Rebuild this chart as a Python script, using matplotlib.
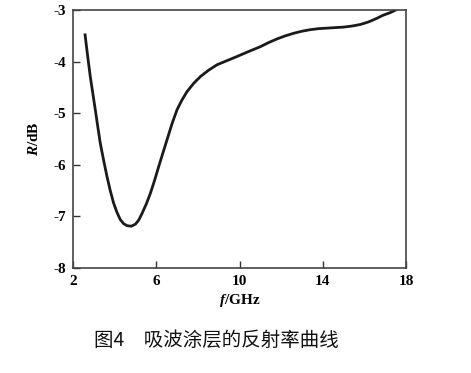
import matplotlib.pyplot as plt

plt.rcParams['mathtext.fontset'] = 'custom'
plt.rcParams['mathtext.it'] = 'Liberation Serif:italic:bold'
plt.rcParams['mathtext.rm'] = 'Liberation Serif:bold'

# reflectivity of the absorbing coating
freq_ghz = [2.58, 2.70, 2.83, 2.95, 3.07, 3.19, 3.31, 3.47, 3.63, 3.79, 3.95, 4.11,
            4.27, 4.43, 4.60, 4.80, 5.00, 5.16, 5.32, 5.52, 5.72, 5.92, 6.12, 6.32,
            6.52, 6.76, 7.00, 7.24, 7.48, 7.80, 8.12, 8.50, 8.92, 9.40, 9.88, 10.4,
            11.0, 11.4, 11.8, 12.2, 12.6, 13.0, 13.4, 13.8, 14.2, 14.6, 15.0, 15.4,
            15.8, 16.2, 16.6, 16.9, 17.24, 17.5, 17.65]
refl_db = [-3.48, -3.88, -4.29, -4.61, -4.93, -5.26, -5.58, -5.91, -6.22, -6.50, -6.74, -6.92,
           -7.06, -7.14, -7.18, -7.19, -7.15, -7.07, -6.94, -6.76, -6.55, -6.30, -6.03, -5.77,
           -5.51, -5.20, -4.93, -4.74, -4.58, -4.42, -4.29, -4.17, -4.06, -3.98, -3.90, -3.81,
           -3.71, -3.63, -3.56, -3.50, -3.45, -3.41, -3.38, -3.36, -3.35, -3.34, -3.33, -3.31,
           -3.28, -3.23, -3.16, -3.10, -3.05, -3.00, -2.97]

x_ticks = [2, 6, 10, 14, 18]
y_ticks = [-8, -7, -6, -5, -4, -3]

fig = plt.figure(figsize=(4.71, 3.73), dpi=100)
ax = fig.add_axes([0.155, 0.2815, 0.707, 0.6915])

ax.plot(freq_ghz, refl_db, color='#1a1a1a', lw=2.0, solid_joinstyle='round')
ax.set_xlim(2, 18)
ax.set_ylim(-8, -3)
ax.set_xticks(x_ticks)
ax.set_yticks(y_ticks)
ax.set_xticklabels([str(t) for t in x_ticks], fontfamily='Liberation Serif', fontweight='bold', fontsize=11)
ax.set_yticklabels([str(t) for t in y_ticks], fontfamily='Liberation Serif', fontweight='bold', fontsize=11)
ax.tick_params(direction='in', length=5, width=1, color='#333333')
ax.tick_params(axis='x', pad=5)
ax.tick_params(axis='y', pad=5)
for s in ax.spines.values():
    s.set_linewidth(1.2)
    s.set_color('#444444')

ax.set_xlabel(r'$\mathit{f}$/GHz', fontfamily='Liberation Serif', fontweight='bold', fontsize=11, labelpad=3)
ax.set_ylabel(r'$\mathit{R}$/dB', fontfamily='Liberation Serif', fontweight='bold', fontsize=11, labelpad=9)

fig.text(0.459, 0.088, '图4\u3000吸波涂层的反射率曲线', fontfamily=['Noto Sans CJK SC', 'DejaVu Sans'],
         fontsize=14, ha='center', va='center', color='#111111')

fig.savefig('out.png', dpi=100)
